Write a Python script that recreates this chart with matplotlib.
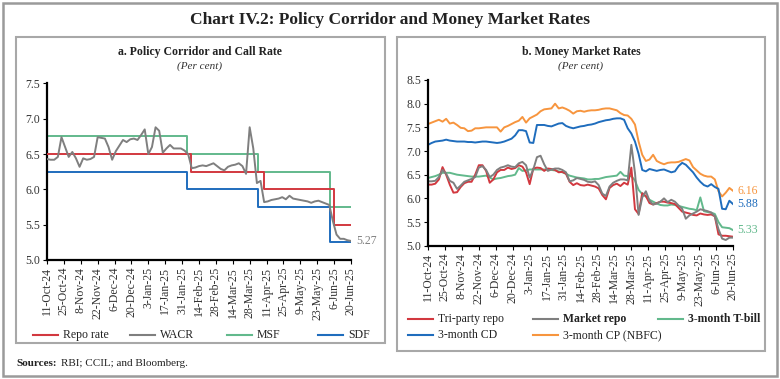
import numpy as np
import pandas as pd
import matplotlib
matplotlib.use('Agg')
from matplotlib import pyplot as plt
from matplotlib.lines import Line2D
from matplotlib.patches import Rectangle

plt.rcParams['font.family'] = ['Liberation Serif', 'DejaVu Serif']

# common date grid (every 3 days)
dates = pd.date_range('2024-10-11', '2025-06-20', freq='3D')
tick_dates = pd.date_range('2024-10-11', '2025-06-20', freq='14D')
tick_labels = [f"{d.day}-{d.strftime('%b-%y')}" for d in tick_dates]

# panel a: policy corridor (step dates and levels)
repo_dates = ['2024-10-11', '2025-02-07', '2025-04-09', '2025-06-06', '2025-06-20']
repo_vals = [6.50, 6.25, 6.00, 5.50, 5.50]
corr_dates = ['2024-10-11', '2025-02-04', '2025-04-04', '2025-06-03', '2025-06-20']
msf_vals = [6.75, 6.50, 6.25, 5.75, 5.75]
sdf_vals = [6.25, 6.00, 5.75, 5.25, 5.25]

wacr = [6.43, 6.42, 6.42, 6.46, 6.74, 6.60, 6.46, 6.53, 6.44, 6.32,
        6.44, 6.42, 6.43, 6.46, 6.74, 6.73, 6.72, 6.60, 6.42, 6.54,
        6.62, 6.70, 6.67, 6.71, 6.72, 6.70, 6.77, 6.85, 6.50, 6.60,
        6.88, 6.83, 6.52, 6.58, 6.63, 6.58, 6.58, 6.58, 6.55, 6.50,
        6.30, 6.31, 6.33, 6.34, 6.33, 6.35, 6.37, 6.33, 6.29, 6.27,
        6.32, 6.34, 6.35, 6.37, 6.33, 6.22, 6.88, 6.58, 6.09, 6.12,
        5.82, 5.83, 5.85, 5.86, 5.87, 5.89, 5.86, 5.91, 5.87, 5.86,
        5.85, 5.84, 5.83, 5.81, 5.83, 5.84, 5.82, 5.80, 5.78, 5.55,
        5.36, 5.30, 5.30, 5.28, 5.27]

# panel b: money market rates
tri_repo = [6.29, 6.29, 6.31, 6.40, 6.66, 6.50, 6.29, 6.12, 6.13, 6.24,
            6.32, 6.35, 6.35, 6.50, 6.70, 6.70, 6.58, 6.33, 6.40, 6.55,
            6.60, 6.60, 6.65, 6.62, 6.64, 6.70, 6.67, 6.55, 6.30, 6.63,
            6.65, 6.64, 6.58, 6.63, 6.62, 6.60, 6.55, 6.56, 6.52, 6.35,
            6.28, 6.32, 6.28, 6.27, 6.29, 6.27, 6.25, 6.21, 6.07, 5.98,
            6.22, 6.28, 6.31, 6.26, 6.33, 6.29, 6.65, 5.77, 5.67, 6.11,
            6.05, 5.90, 5.87, 5.90, 5.93, 5.93, 5.91, 5.90, 5.88, 5.80,
            5.72, 5.70, 5.68, 5.65, 5.64, 5.68, 5.66, 5.65, 5.66, 5.62,
            5.24, 5.21, 5.21, 5.20, 5.19]
mkt_repo = [6.36, 6.36, 6.37, 6.45, 6.60, 6.52, 6.37, 6.33, 6.20, 6.27,
            6.35, 6.38, 6.41, 6.45, 6.65, 6.68, 6.60, 6.45, 6.50, 6.60,
            6.65, 6.67, 6.70, 6.67, 6.66, 6.74, 6.77, 6.70, 6.44, 6.61,
            6.87, 6.90, 6.72, 6.58, 6.61, 6.63, 6.63, 6.60, 6.55, 6.36,
            6.38, 6.43, 6.41, 6.39, 6.35, 6.34, 6.36, 6.28, 6.10, 6.05,
            6.25, 6.33, 6.37, 6.40, 6.40, 6.38, 7.13, 6.54, 5.65, 6.02,
            6.15, 5.95, 5.87, 5.89, 5.93, 6.00, 5.92, 5.97, 5.93, 5.85,
            5.78, 5.57, 5.64, 5.68, 5.72, 5.77, 5.75, 5.73, 5.70, 5.62,
            5.35, 5.15, 5.12, 5.17, 5.17]
tbill = [6.43, 6.45, 6.47, 6.50, 6.54, 6.54, 6.54, 6.52, 6.50, 6.49,
         6.48, 6.47, 6.46, 6.46, 6.46, 6.47, 6.48, 6.44, 6.40, 6.42,
         6.43, 6.45, 6.47, 6.48, 6.50, 6.64, 6.58, 6.59, 6.61, 6.61,
         6.61, 6.61, 6.61, 6.61, 6.60, 6.59, 6.57, 6.55, 6.52, 6.48,
         6.46, 6.44, 6.43, 6.42, 6.40, 6.40, 6.41, 6.41, 6.43, 6.45,
         6.46, 6.47, 6.48, 6.56, 6.48, 6.47, 6.47, 6.38, 6.18, 6.09,
         6.04, 5.97, 5.93, 5.89, 5.86, 5.85, 5.85, 5.87, 5.86, 5.84,
         5.82, 5.80, 5.78, 5.77, 5.75, 6.02, 5.73, 5.71, 5.70, 5.67,
         5.50, 5.39, 5.38, 5.37, 5.33]
cd_3m = [7.13, 7.17, 7.20, 7.21, 7.22, 7.24, 7.22, 7.21, 7.20, 7.20,
         7.20, 7.19, 7.19, 7.18, 7.19, 7.20, 7.20, 7.19, 7.18, 7.17,
         7.18, 7.20, 7.23, 7.26, 7.33, 7.44, 7.44, 7.42, 7.18, 7.17,
         7.55, 7.55, 7.55, 7.53, 7.52, 7.55, 7.58, 7.59, 7.53, 7.50,
         7.48, 7.50, 7.52, 7.53, 7.55, 7.56, 7.58, 7.61, 7.63, 7.65,
         7.66, 7.68, 7.69, 7.69, 7.66, 7.48, 7.37, 7.20, 6.94, 6.60,
         6.57, 6.62, 6.60, 6.58, 6.60, 6.61, 6.58, 6.55, 6.57, 6.68,
         6.75, 6.71, 6.63, 6.55, 6.44, 6.35, 6.28, 6.25, 6.30, 6.24,
         6.20, 5.78, 5.77, 5.95, 5.88]
cp_3m = [7.57, 7.60, 7.63, 7.66, 7.62, 7.68, 7.58, 7.60, 7.55, 7.49,
         7.48, 7.42, 7.43, 7.48, 7.48, 7.49, 7.50, 7.50, 7.50, 7.50,
         7.41, 7.50, 7.53, 7.57, 7.61, 7.64, 7.72, 7.60, 7.69, 7.73,
         7.77, 7.84, 7.88, 7.89, 7.90, 8.00, 7.90, 7.92, 7.89, 7.85,
         7.79, 7.84, 7.85, 7.83, 7.85, 7.86, 7.86, 7.87, 7.89, 7.90,
         7.90, 7.88, 7.86, 7.80, 7.76, 7.75, 7.68, 7.56, 7.20, 6.92,
         6.79, 6.82, 6.92, 6.79, 6.75, 6.72, 6.75, 6.76, 6.76, 6.77,
         6.80, 6.83, 6.80, 6.66, 6.59, 6.52, 6.48, 6.46, 6.46, 6.40,
         6.15, 6.04, 6.12, 6.22, 6.16]

RED = '#d2383f'
GRAY = '#7f7f7f'
GREEN = '#62b98c'
BLUE = '#1f6dbd'
ORANGE = '#f7953e'
TXT = '#333333'

W, H = 780, 379
fig = plt.figure(figsize=(W / 100, H / 100), dpi=100)


def fx(px):
    return px / W


def fy(py):
    return 1 - py / H


def box(x0, y0, x1, y1, lw, col):
    fig.add_artist(Rectangle((fx(x0), fy(y1)), fx(x1) - fx(x0), fy(y0) - fy(y1),
                             transform=fig.transFigure, fill=False, lw=lw, ec=col))


def legend_item(x, y, col, label, bold=False):
    fig.add_artist(Line2D([fx(x), fx(x + 25)], [fy(y), fy(y)], color=col, lw=1.5,
                          transform=fig.transFigure))
    fig.text(fx(x + 30), fy(y), label, fontsize=8.5, va='center', color='#222222',
             fontweight='bold' if bold else 'normal')


def style_axes(ax, ylo, yhi):
    ax.set_xlim(dates[0], dates[-1])
    ax.set_ylim(ylo, yhi)
    ax.set_yticks(np.arange(ylo, yhi + 0.01, 0.5))
    ax.set_yticklabels([f'{v:.1f}' for v in np.arange(ylo, yhi + 0.01, 0.5)])
    ax.set_xticks(tick_dates)
    ax.set_xticklabels(tick_labels, rotation=90)
    for s in ['top', 'right']:
        ax.spines[s].set_visible(False)
    for s in ['left', 'bottom']:
        ax.spines[s].set_linewidth(1.6)
        ax.spines[s].set_color('black')
    ax.tick_params(axis='both', labelsize=8.5, colors='black', labelcolor=TXT,
                   length=3, width=0.8, pad=2)


# outer frame, panel frames
box(3, 3, 777, 376, 1.8, '#9a9a9a')
box(16, 37, 385, 343, 1.5, '#a8a8a8')
box(397, 37, 765, 351, 1.5, '#a8a8a8')

fig.text(0.5, fy(20), 'Chart IV.2: Policy Corridor and Money Market Rates',
         ha='center', va='center', fontsize=12.5, fontweight='bold', color='#222222')
fig.text(fx(200), fy(52), 'a. Policy Corridor and Call Rate', ha='center', va='center',
         fontsize=8.5, fontweight='bold', color='#222222')
fig.text(fx(200), fy(66), '(Per cent)', ha='center', va='center', fontsize=8,
         style='italic', color=TXT)
fig.text(fx(581), fy(52), 'b. Money Market Rates', ha='center', va='center',
         fontsize=8.5, fontweight='bold', color='#222222')
fig.text(fx(581), fy(66), '(Per cent)', ha='center', va='center', fontsize=8,
         style='italic', color=TXT)
src = fig.text(fx(16), fy(363), 'Sources:', ha='left', va='center', fontsize=8,
               fontweight='bold', color='#222222')
fig.add_artist(plt.Annotation('RBI; CCIL; and Bloomberg.', xy=(1, 0.5), xycoords=src,
                              xytext=(3, 0), textcoords='offset points', ha='left',
                              va='center', fontsize=8, color='#222222'))

# panel a
ax1 = fig.add_axes([fx(47), fy(260), fx(351) - fx(47), fy(83.5) - fy(260)])
ax1.step(pd.to_datetime(corr_dates), msf_vals, where='post', color=GREEN, lw=1.4, zorder=2)
ax1.step(pd.to_datetime(repo_dates), repo_vals, where='post', color=RED, lw=1.4, zorder=3)
ax1.step(pd.to_datetime(corr_dates), sdf_vals, where='post', color=BLUE, lw=1.4, zorder=2)
ax1.plot(dates, wacr, color=GRAY, lw=1.4, zorder=4)
style_axes(ax1, 5.0, 7.5)
ax1.annotate(f'{wacr[-1]:.2f}', (dates[-1], wacr[-1]), xytext=(4, 0),
             textcoords='offset points', va='center', fontsize=8.5, color=GRAY)

legend_item(33, 335, RED, 'Repo rate')
legend_item(130, 335, GRAY, 'WACR')
legend_item(227, 335, GREEN, 'MSF')
legend_item(318, 335, BLUE, 'SDF')

# panel b
ax2 = fig.add_axes([fx(428), fy(245.7), fx(733) - fx(428), fy(80) - fy(245.7)])
ax2.plot(dates, cp_3m, color=ORANGE, lw=1.4)
ax2.plot(dates, cd_3m, color=BLUE, lw=1.4)
ax2.plot(dates, tbill, color=GREEN, lw=1.4)
ax2.plot(dates, tri_repo, color=RED, lw=1.4)
ax2.plot(dates, mkt_repo, color=GRAY, lw=1.4)
style_axes(ax2, 5.0, 8.5)
for vals, col in [(cp_3m, ORANGE), (cd_3m, BLUE), (tbill, GREEN)]:
    ax2.annotate(f'{vals[-1]:.2f}', (dates[-1], vals[-1]), xytext=(3, 0),
                 textcoords='offset points', va='center', fontsize=8.5, color=col)

legend_item(408, 319, RED, 'Tri-party repo')
legend_item(533, 319, GRAY, 'Market repo', bold=True)
legend_item(658, 319, GREEN, '3-month T-bill', bold=True)
legend_item(408, 335, BLUE, '3-month CD')
legend_item(533, 335, ORANGE, '3-month CP (NBFC)')

fig.savefig('out.png', dpi=100)
